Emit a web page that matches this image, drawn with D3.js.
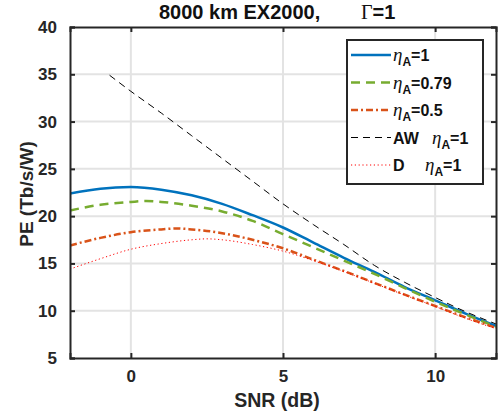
<!DOCTYPE html>
<html>
<head>
<meta charset="utf-8">
<script src="https://cdn.jsdelivr.net/npm/d3@7"></script>
<style>
  body { margin: 0; background: #fff; }
  text { font-family: "Liberation Sans", Arial, sans-serif; }
</style>
</head>
<body>
<div id="chart"></div>
<script>
// curves (SNR in dB, PE in Tb/s/W)
const snrBlue   = [-2, -1, 0, 1, 2, 3, 4, 5, 6, 7, 8, 9, 10, 11, 12];
const peBlue    = [22.4, 22.9, 23.07, 22.8, 22.2, 21.3, 20.1, 18.8, 17.2, 15.6, 14.1, 12.5, 11.1, 9.7, 8.4];
const snrGreen  = [-2, -1, 0, 0.5, 1, 2, 3, 4, 5, 6, 7, 8, 9, 10, 11, 12];
const peGreen   = [20.6, 21.2, 21.5, 21.6, 21.5, 21.1, 20.5, 19.5, 18.1, 16.7, 15.3, 13.9, 12.4, 10.95, 9.6, 8.3];
const snrOrange = [-2, -1, 0, 1, 1.5, 2, 3, 4, 5, 6, 7, 8, 9, 10, 11, 12];
const peOrange  = [16.9, 17.7, 18.3, 18.6, 18.7, 18.6, 18.2, 17.5, 16.6, 15.4, 14.2, 12.95, 11.7, 10.5, 9.3, 8.2];
const snrAW     = [-0.7, 0, 1, 2, 3, 4, 5, 6, 7, 8, 9, 10, 11, 12];
const peAW      = [34.9, 33.2, 30.9, 28.5, 26.1, 23.7, 21.3, 19.1, 17.0, 14.8, 13.0, 11.4, 9.9, 8.6];
const snrD      = [-2, -1, 0, 1, 2, 2.5, 3, 4, 5, 6, 7, 8, 9, 10, 11, 12];
const peD       = [14.4, 15.5, 16.5, 17.1, 17.5, 17.6, 17.5, 17.0, 16.3, 15.3, 14.15, 12.9, 11.65, 10.45, 9.2, 8.1];

const xTicks = [0, 5, 10];
const yTicks = [5, 10, 15, 20, 25, 30, 35, 40];

const series = [
    { x: snrBlue,   y: peBlue,   color: "#0072BD", width: 2.5, dash: null,      pre: "",   etaX: 46, label: "=1" },
    { x: snrGreen,  y: peGreen,  color: "#77AC30", width: 2.5, dash: "9,6",     pre: "",   etaX: 46, label: "=0.79" },
    { x: snrOrange, y: peOrange, color: "#D95319", width: 2.5, dash: "7,3,2,3", pre: "",   etaX: 46, label: "=0.5" },
    { x: snrAW,     y: peAW,     color: "#000000", width: 1,   dash: "7,5",     pre: "AW", etaX: 85, label: "=1" },
    { x: snrD,      y: peD,      color: "#FF0000", width: 1,   dash: "1.2,2.6", pre: "D",  etaX: 78, label: "=1" }
];

const W = 499, H = 417;
const margin = { top: 27, right: 3, bottom: 59, left: 70 };
const width = W - margin.left - margin.right;
const height = H - margin.top - margin.bottom;
const axisColor = "#262626";

const svg = d3.select("#chart").append("svg")
    .attr("width", W)
    .attr("height", H);

const g = svg.append("g")
    .attr("transform", `translate(${margin.left},${margin.top})`);

const x = d3.scaleLinear().domain([-2, 12]).range([0, width]);
const y = d3.scaleLinear().domain([5, 40]).range([height, 0]);

// grid
g.append("g")
    .selectAll("line")
    .data(xTicks)
    .enter().append("line")
    .attr("x1", d => x(d)).attr("x2", d => x(d))
    .attr("y1", 0).attr("y2", height)
    .style("stroke", "#e3e3e3").style("stroke-width", 2);

g.append("g")
    .selectAll("line")
    .data(yTicks.slice(1, -1))
    .enter().append("line")
    .attr("x1", 0).attr("x2", width)
    .attr("y1", d => y(d)).attr("y2", d => y(d))
    .style("stroke", "#e3e3e3").style("stroke-width", 2);

// curves
let line = d3.line()
    .x(d => x(d[0]))
    .y(d => y(d[1]))
    .curve(d3.curveMonotoneX);

svg.append("clipPath").attr("id", "clip")
    .append("rect").attr("width", width).attr("height", height);

series.forEach(s => {
    g.append("path")
        .datum(s.x.map((v, i) => [v, s.y[i]]))
        .attr("clip-path", "url(#clip)")
        .attr("d", line)
        .style("fill", "none")
        .style("stroke", s.color)
        .style("stroke-width", s.width)
        .style("stroke-dasharray", s.dash);
});

// axes (box with inward ticks)
g.append("g")
    .attr("transform", `translate(0,${height})`)
    .call(d3.axisBottom(x).tickValues(xTicks).tickSize(-5).tickPadding(12))
    .call(a => a.selectAll("text").style("font-size", "17px").style("font-weight", "bold").style("fill", axisColor));

g.append("g")
    .call(d3.axisLeft(y).tickValues(yTicks).tickSize(-5).tickPadding(13))
    .call(a => a.selectAll("text").style("font-size", "17px").style("font-weight", "bold").style("fill", axisColor));

g.append("g")
    .call(d3.axisTop(x).tickValues(xTicks).tickSize(-5).tickFormat(""));

g.append("g")
    .attr("transform", `translate(${width},0)`)
    .call(d3.axisRight(y).tickValues(yTicks).tickSize(-5).tickFormat(""));

g.selectAll(".domain").style("stroke", axisColor).style("stroke-width", 2);
g.selectAll(".tick line").style("stroke", axisColor).style("stroke-width", 2);

// title
svg.append("text")
    .attr("x", 159).attr("y", 19)
    .style("font-size", "20px")
    .style("font-weight", "bold")
    .style("fill", "#111")
    .text("8000 km EX2000,");

let gam = svg.append("text")
    .attr("x", 361).attr("y", 19)
    .style("font-size", "20px")
    .style("font-weight", "bold")
    .style("fill", "#111");
gam.append("tspan").style("font-family", "'Liberation Serif', serif").style("font-weight", "normal").text("Γ");
gam.append("tspan").text("=1");

// axis labels
svg.append("text")
    .attr("x", 277)
    .attr("y", 407)
    .attr("text-anchor", "middle")
    .style("font-size", "19.5px")
    .style("font-weight", "bold")
    .style("fill", axisColor)
    .text("SNR (dB)");

svg.append("text")
    .attr("transform", `translate(33,194) rotate(-90)`)
    .attr("text-anchor", "middle")
    .style("font-size", "19px")
    .style("font-weight", "bold")
    .style("fill", axisColor)
    .text("PE (Tb/s/W)");

// legend
let legend = svg.append("g").attr("transform", "translate(347,40)");
legend.append("rect")
    .attr("width", 136).attr("height", 144)
    .style("fill", "#fff")
    .style("stroke", axisColor).style("stroke-width", 2);

series.forEach((s, i) => {
    let ly = 15 + i * 27.5;
    legend.append("line")
        .attr("x1", 4).attr("x2", 44)
        .attr("y1", ly).attr("y2", ly)
        .style("stroke", s.color)
        .style("stroke-width", s.width)
        .style("stroke-dasharray", s.dash);
    if (s.pre) {
        legend.append("text")
            .attr("x", 46).attr("y", ly + 6)
            .style("font-size", "16px")
            .style("font-weight", "bold")
            .style("fill", "#111")
            .text(s.pre);
    }
    let t = legend.append("text")
        .attr("x", s.etaX).attr("y", ly + 6)
        .style("font-size", "16px")
        .style("font-weight", "bold")
        .style("fill", "#111");
    t.append("tspan")
        .style("font-family", "'Liberation Serif', serif")
        .style("font-style", "italic")
        .style("font-weight", "normal")
        .style("font-size", "19px")
        .text("η");
    t.append("tspan").attr("dy", 5).style("font-size", "12px").text("A");
    t.append("tspan").attr("dy", -5).text(s.label);
});
</script>
</body>
</html>
